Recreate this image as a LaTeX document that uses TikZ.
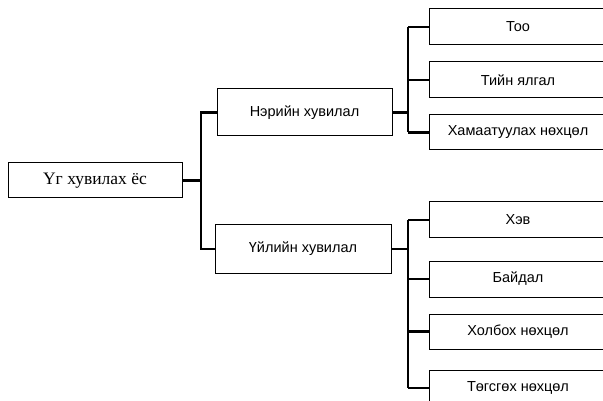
\documentclass[tikz,border=0pt]{standalone}
\usepackage{fontspec}
\setmainfont{Liberation Sans}
\newfontfamily\serifcyr{Liberation Serif}
\begin{document}
\begin{tikzpicture}[x=1pt,y=-1pt,
  box/.style={draw=black,line width=1pt,inner sep=0pt,font=\fontsize{14.5}{16}\selectfont},
  leaf/.style={box,minimum width=178pt,minimum height=36pt},
  conn/.style={draw=black,line width=2.2pt}]
\useasboundingbox (0,0) rectangle (603,401);
\clip (0,0) rectangle (603,401);
\fill[white] (0,0) rectangle (603,401);
\node[box,minimum width=174pt,minimum height=35pt,font=\serifcyr\fontsize{17.5}{20}\selectfont] (root) at (95,180.5) {Үг хувилах ёс};
\node[box,minimum width=175pt,minimum height=47pt] (n1) at (304.5,112.5) {Нэрийн хувилал};
\node[box,minimum width=176pt,minimum height=48pt] (n2) at (303,249) {Үйлийн хувилал};
\node[leaf] (l1) at (518,27) {Тоо};
\node[leaf] (l2) at (518,80) {Тийн ялгал};
\node[leaf,minimum height=35pt] (l3) at (518,132.5) {Хамаатуулах нөхцөл};
\node[leaf] (l4) at (518,220) {Хэв};
\node[leaf] (l5) at (518,279) {Байдал};
\node[leaf,minimum height=35pt] (l6) at (518,331.5) {Холбох нөхцөл};
\node[leaf] (l7) at (518,388) {Төгсгөх нөхцөл};
\coordinate (b0) at (201,180.5);
\coordinate (b1) at (408,112.5);
\coordinate (b2) at (408,249);
\draw[conn] (root.east) -- (b0);
\draw[conn] (n1.west) -| (b0) |- (n2.west);
\draw[conn] (n1.east) -- (b1);
\draw[conn] (b1 |- l1.west) -- (b1 |- l3.west);
\foreach \l in {l1,l2,l3} \draw[conn] (b1 |- \l.west) -- (\l.west);
\draw[conn] (n2.east) -- (b2);
\draw[conn] (b2 |- l4.west) -- (b2 |- l7.west);
\foreach \l in {l4,l5,l6,l7} \draw[conn] (b2 |- \l.west) -- (\l.west);
\end{tikzpicture}
\end{document}
